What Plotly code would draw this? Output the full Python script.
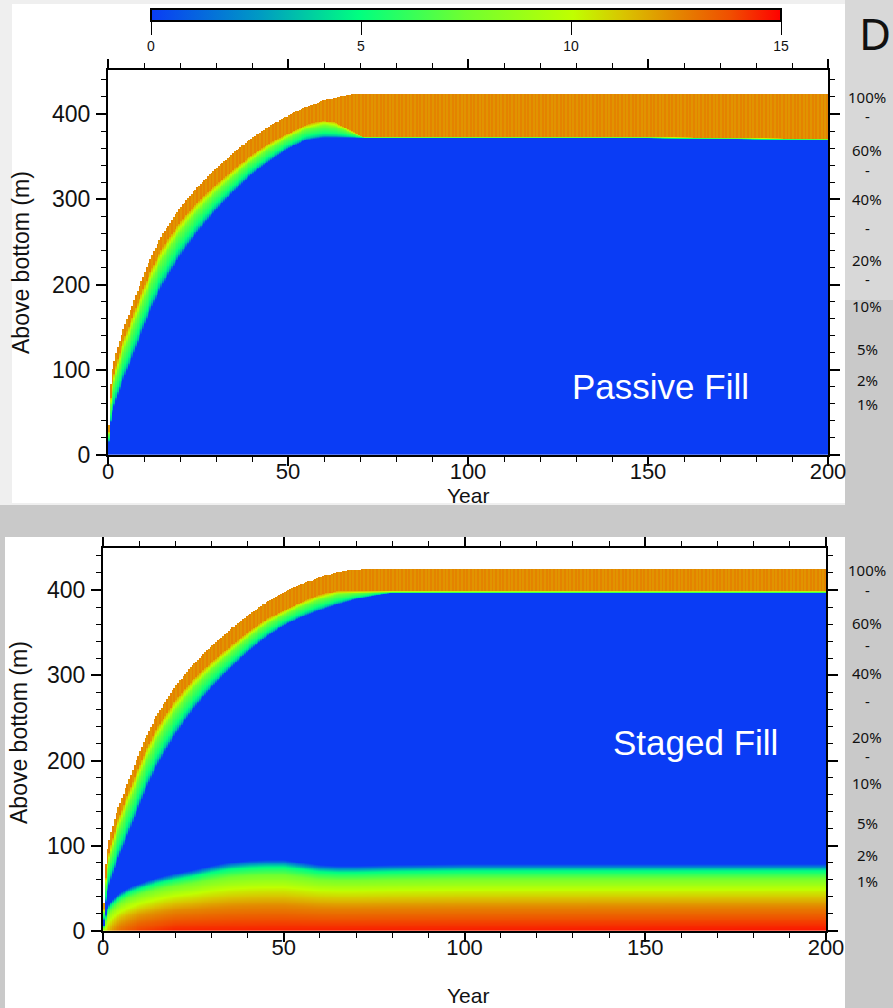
import numpy as np
import plotly.graph_objects as go

W, H = 893, 1008


def px_x(p):
    return p / W


def px_y(p):
    return 1 - p / H


# ---------------- data ----------------
# Passive fill: fill surface height (m) by year
passive_years = [0, 0.5, 1, 2, 4, 7, 10, 12, 15, 20, 25, 30, 35, 40, 45, 50, 55, 60, 65, 70, 72, 200]
passive_surface = [0, 70, 95, 115, 145, 178, 212, 232, 258, 290, 315, 336, 355, 372, 386, 398, 408, 416, 421, 424, 424, 424]
# base of the orange (fresh) layer
passive_orange_years = [0, 0.5, 1, 2, 4, 7, 10, 12, 15, 20, 25, 30, 35, 40, 45, 50, 55, 60, 63, 66, 69, 71, 150, 200]
passive_orange_base = [0, 55, 80, 100, 131, 164, 197, 217, 242, 273, 297, 317, 335, 352, 366, 377, 387, 392, 390, 384, 377, 373, 373, 371]
# top of the blue (clean) water
passive_blue_years = [0, 0.5, 1, 2, 4, 7, 10, 12, 15, 20, 25, 30, 35, 40, 45, 50, 55, 58, 60, 150, 200]
passive_blue_top = [0, 30, 45, 60, 85, 116, 150, 171, 198, 233, 262, 287, 309, 329, 345, 359, 369, 371, 372, 372, 370]

# Staged fill
staged_years = [0, 0.5, 1, 2, 4, 7, 10, 12, 15, 20, 25, 30, 35, 40, 45, 50, 55, 60, 65, 70, 73, 200]
staged_surface = [0, 65, 90, 112, 142, 175, 208, 228, 254, 287, 313, 334, 353, 370, 385, 397, 407, 415, 421, 424, 425, 425]
staged_orange_years = [0, 0.5, 1, 2, 4, 7, 10, 12, 15, 20, 25, 30, 35, 40, 45, 50, 55, 60, 65, 200]
staged_orange_base = [0, 50, 75, 97, 128, 161, 193, 213, 238, 270, 295, 315, 333, 350, 365, 376, 386, 394, 399, 399]
staged_blue_years = [0, 0.5, 1, 2, 4, 7, 10, 12, 15, 20, 25, 30, 35, 40, 45, 50, 55, 60, 65, 70, 75, 80, 200]
staged_blue_top = [0, 25, 42, 57, 82, 113, 146, 167, 194, 230, 260, 285, 307, 327, 344, 358, 368, 376, 383, 389, 393, 396, 396]
# Staged fill: dense bottom layer
band_years = [0, 1, 2, 3, 5, 8, 10, 15, 20, 25, 30, 35, 40, 45, 50, 55, 60, 65, 70, 80, 100, 150, 200]
band_top = [0, 25, 33, 38, 45, 52, 55, 62, 67, 71, 76, 80, 82, 83, 83, 80, 77, 76, 76, 77, 78, 78, 78]
band_max_years = [0, 1, 3, 5, 10, 20, 200]
band_max = [9.0, 11.0, 12.5, 13.2, 14.0, 14.5, 14.7]
band_profile_frac = [0.0, 0.15, 0.35, 0.6, 0.78, 0.9, 1.0]
band_profile_rel = [1.0, 0.95, 0.86, 0.70, 0.52, 0.33, 0.0]

# value across the fade zone (0 = blue top, 1 = orange base)
fade_profile_frac = [0.0, 0.12, 0.3, 0.7, 0.85, 1.0]
fade_profile_value = [0.0, 3.5, 5.2, 7.5, 10.0, 11.8]
orange_stripes = [12.25, 12.6]

colorbar_ticks = [0, 5, 10, 15]
x_ticks = [0, 50, 100, 150, 200]
y_ticks = [0, 100, 200, 300, 400]

pct_labels = ["100%", "-", "60%", "-", "40%", "-", "20%", "-", "10%", "5%", "2%", "1%"]
pct_top_y = [97, 116, 150, 170, 199, 228, 260, 279, 306, 349, 380, 404]
pct_bot_y = [570, 590, 623, 645, 673, 701, 737, 756, 783, 823, 855, 881]

# ---------------- grid ----------------
col_edges = np.arange(0, 200.5, 0.5)
col_centers = col_edges[:-1] + 0.25
heights = np.arange(0, 452) + 0.5


def build_field(sy, sv, oy, ov, by, bv, band=False):
    z = np.full((len(heights), len(col_centers)), np.nan)
    for j, t in enumerate(col_centers):
        top = np.interp(t, sy, sv)
        ob = min(np.interp(t, oy, ov), top)
        bt = min(np.interp(t, by, bv), ob - 1.5)
        stripe = orange_stripes[j % 2]
        col = np.full(len(heights), np.nan)
        below = heights <= top
        orange = below & (heights >= ob)
        fade = below & (heights < ob) & (heights > bt)
        blue = below & (heights <= bt)
        col[orange] = stripe
        col[fade] = np.interp((heights[fade] - bt) / (ob - bt), fade_profile_frac, fade_profile_value)
        col[blue] = 0.0
        if band:
            btop = np.interp(t, band_years, band_top)
            bmax = np.interp(t, band_max_years, band_max)
            if btop > 0:
                m = below & (heights < btop)
                v = bmax * np.interp(heights[m] / btop, band_profile_frac, band_profile_rel)
                col[m] = np.maximum(col[m], v)
        z[:, j] = col
    return np.round(z, 2)


z_passive = build_field(passive_years, passive_surface, passive_orange_years, passive_orange_base,
                        passive_blue_years, passive_blue_top)
z_staged = build_field(staged_years, staged_surface, staged_orange_years, staged_orange_base,
                       staged_blue_years, staged_blue_top, band=True)

colorscale = [
    [0.00, "#0a3cf5"],
    [0.17, "#0099c4"],
    [0.33, "#00ff80"],
    [0.50, "#70ff30"],
    [0.67, "#c0ff00"],
    [0.75, "#d9c400"],
    [0.83, "#e38a00"],
    [0.92, "#f04e00"],
    [1.00, "#ff0000"],
]

fig = go.Figure()
fig.add_trace(go.Heatmap(x=col_centers, y=heights, z=z_passive, coloraxis="coloraxis",
                         xaxis="x", yaxis="y", hoverinfo="skip"))
fig.add_trace(go.Heatmap(x=col_centers, y=heights, z=z_staged, coloraxis="coloraxis",
                         xaxis="x2", yaxis="y2", hoverinfo="skip"))

tick_font = dict(family="Liberation Sans, Arial, sans-serif", size=22, color="#111")
common_x = dict(range=[0, 200], tickvals=x_ticks, ticks="outside", ticklen=9, tickwidth=1.5,
                tickcolor="black", showline=True, linewidth=2, linecolor="black", mirror="ticks",
                showgrid=False, zeroline=False, tickfont=tick_font, ticklabelstandoff=-13,
                minor=dict(dtick=10, ticks="outside", ticklen=5, tickwidth=1, tickcolor="black"),
                automargin=False)
common_y = dict(tickvals=y_ticks, ticks="outside", ticklen=10, tickwidth=1.5,
                tickcolor="black", showline=True, linewidth=2, linecolor="black", mirror="ticks",
                showgrid=False, zeroline=False, tickfont=dict(tick_font, size=23), ticklabelstandoff=1,
                minor=dict(dtick=20, ticks="outside", ticklen=5, tickwidth=1, tickcolor="black"),
                automargin=False)

shapes = [
    dict(type="rect", xref="paper", yref="paper", x0=0, x1=px_x(845), y0=px_y(505), y1=1,
         fillcolor="#efefef", line_width=0, layer="below"),
    dict(type="rect", xref="paper", yref="paper", x0=px_x(845), x1=1, y0=px_y(300), y1=1,
         fillcolor="#d8d8d8", line_width=0, layer="below"),
    dict(type="rect", xref="paper", yref="paper", x0=px_x(12), x1=px_x(845), y0=px_y(503), y1=px_y(4),
         fillcolor="white", line_width=0, layer="below"),
    dict(type="rect", xref="paper", yref="paper", x0=px_x(5), x1=px_x(845), y0=0, y1=px_y(537),
         fillcolor="white", line_width=0, layer="below"),
]
for v in [5, 10]:
    xp = 151 + (781 - 151) * v / 15
    shapes.append(dict(type="line", xref="paper", yref="paper", x0=px_x(xp), x1=px_x(xp),
                       y0=px_y(22), y1=px_y(10), line=dict(color="#444", width=1)))

pct_font = dict(family="Noto Sans, sans-serif", size=15, color="#111")
ann = []
for lab, yy in zip(pct_labels, pct_top_y):
    ann.append(dict(text=lab, x=px_x(867), y=px_y(yy), xref="paper", yref="paper", showarrow=False,
                    xanchor="center", yanchor="middle", font=pct_font))
for lab, yy in zip(pct_labels, pct_bot_y):
    ann.append(dict(text=lab, x=px_x(867), y=px_y(yy), xref="paper", yref="paper", showarrow=False,
                    xanchor="center", yanchor="middle", font=pct_font))

title_font = dict(family="Liberation Sans, Arial, sans-serif", size=21, color="#111")
label_font = dict(family="Liberation Sans, Arial, sans-serif", size=35, color="white")
ann += [
    dict(text="Year", x=px_x(468), y=px_y(495), xref="paper", yref="paper", showarrow=False,
         xanchor="center", yanchor="middle", font=title_font),
    dict(text="Year", x=px_x(468), y=px_y(995), xref="paper", yref="paper", showarrow=False,
         xanchor="center", yanchor="middle", font=title_font),
    dict(text="Above bottom (m)", x=px_x(21), y=px_y(263), xref="paper", yref="paper", showarrow=False,
         xanchor="center", yanchor="middle", textangle=-90, font=dict(title_font, size=23)),
    dict(text="Above bottom (m)", x=px_x(19), y=px_y(733), xref="paper", yref="paper", showarrow=False,
         xanchor="center", yanchor="middle", textangle=-90, font=dict(title_font, size=23)),
    dict(text="Passive Fill", x=px_x(660), y=px_y(387), xref="paper", yref="paper", showarrow=False,
         xanchor="center", yanchor="middle", font=label_font),
    dict(text="Staged Fill", x=px_x(695), y=px_y(742), xref="paper", yref="paper", showarrow=False,
         xanchor="center", yanchor="middle", font=label_font),
    dict(text="D", x=px_x(857), y=px_y(33), xref="paper", yref="paper", showarrow=False,
         xanchor="left", yanchor="middle",
         font=dict(family="Noto Sans, sans-serif", size=44, color="#111")),
]

fig.update_layout(
    width=W, height=H,
    margin=dict(l=0, r=0, t=0, b=0),
    paper_bgcolor="#c9c9c9",
    plot_bgcolor="white",
    showlegend=False,
    xaxis=dict(domain=[px_x(108), px_x(828)], anchor="y", **common_x),
    yaxis=dict(domain=[px_y(455), px_y(70)], anchor="x", range=[0, 385 / 0.8525], **common_y),
    xaxis2=dict(domain=[px_x(103), px_x(826)], anchor="y2", **common_x),
    yaxis2=dict(domain=[px_y(931), px_y(548)], anchor="x2", range=[0, 383 / 0.8525], **common_y),
    coloraxis=dict(
        cmin=0, cmax=15, colorscale=colorscale,
        colorbar=dict(orientation="h", x=px_x(466), xanchor="center", y=px_y(9), yanchor="top",
                      len=630 / W, lenmode="fraction", thickness=12, outlinewidth=2, outlinecolor="black",
                      tickvals=colorbar_ticks, ticks="outside", ticklen=13, tickwidth=1, tickcolor="black",
                      tickfont=dict(family="Liberation Sans, Arial, sans-serif", size=14, color="#111"),
                      xpad=0, ypad=0, bgcolor="rgba(0,0,0,0)"),
    ),
    shapes=shapes,
    annotations=ann,
)

fig.write_html("out.html", config={"displayModeBar": False},
               post_script="document.body.style.margin='0px';document.body.style.overflow='hidden';")
